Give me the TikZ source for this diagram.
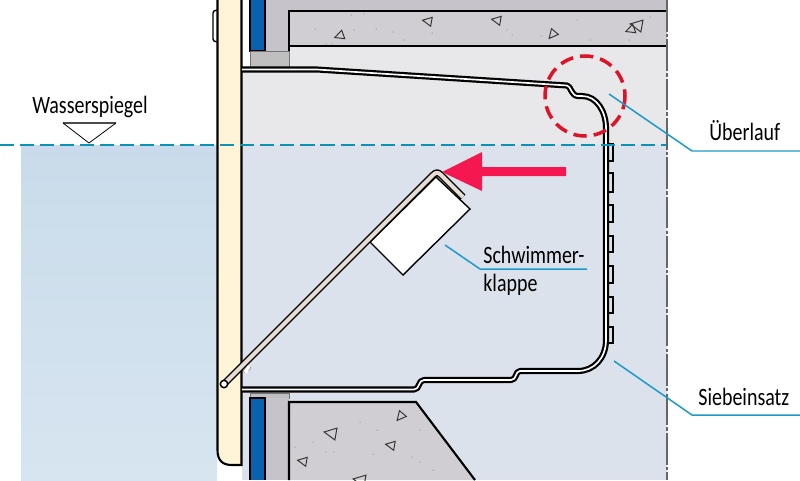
\documentclass[tikz,border=0pt]{standalone}
\usepackage{fontspec}
\setmainfont[FakeStretch=0.8]{Carlito}
\usetikzlibrary{positioning}

\definecolor{waterIn}{HTML}{DCE2EC}
\definecolor{waterOut}{HTML}{C9DBEA}
\definecolor{waterLow}{HTML}{D7E5F0}
\definecolor{airIn}{HTML}{E8E7EA}
\definecolor{concrete}{HTML}{D1CED3}
\definecolor{backGrey}{HTML}{C6C4CA}
\definecolor{wallCream}{HTML}{FFF3D8}
\definecolor{sealBlue}{HTML}{0A62AE}
\definecolor{leader}{HTML}{1B9AC9}
\definecolor{levelLine}{HTML}{0A93B4}
\definecolor{flapRed}{HTML}{F5174F}
\definecolor{ringRed}{HTML}{DC1428}
\definecolor{rodBeige}{HTML}{E9DDD3}

\tikzset{
    housing/.style={line width=1.25pt, double=white, double distance=0.95pt, line join=round},
    rodline/.style={line width=0.8pt, double=rodBeige, double distance=2.3pt, line join=round},
    outline/.style={draw=black, line width=1.2pt},
    leaderline/.style={draw=leader, line width=0.85pt},
    pebble/.style={draw=black!80, line width=0.55pt, fill=none},
    label/.style={font=\fontsize{14.2}{16}\selectfont, inner sep=0pt}
}

\begin{document}
\begin{tikzpicture}[x=0.02cm, y=-0.02cm]
    \useasboundingbox (0,0) rectangle (800,480);

    % backgrounds
    \fill[airIn] (242,46) rectangle (667,145);
    \fill[waterIn] (242,145) rectangle (667,480);
    \shade[top color=waterOut, bottom color=waterLow] (21,145) rectangle (217,480);

    % upper structure
    \fill[backGrey] (265,0) rectangle (667,11);
    \fill[backGrey] (265,0) rectangle (289,51);
    \fill[white] (242,0) rectangle (250,67);
    \fill[sealBlue] (250,0) rectangle (265,51);
    \draw[black, line width=0.8pt] (250,0) -- (250,51) -- (265,51) -- (265,0);
    \fill[black!25, draw=black!55, line width=0.4pt] (250,51) rectangle (289,67);
    \fill[concrete] (289,11) rectangle (667,46);
    \draw[outline] (289,51) -- (289,11) -- (667,11);
    \draw[outline] (289,46) -- (667,46);

    % lower structure
    \fill[concrete] (289,402) -- (416,402) -- (475,480) -- (289,480) -- cycle;
    \fill[black!25, draw=black!55, line width=0.4pt] (250,393) rectangle (289,398);
    \fill[backGrey] (265,398) rectangle (289,480);
    \fill[sealBlue] (250,398) rectangle (265,480);
    \draw[black, line width=0.8pt] (250,480) -- (250,398) -- (265,398) -- (265,480);
    \draw[outline] (289,480) -- (289,402) -- (416,402) -- (475,480);

    % pebbles in the concrete
    \foreach \cx/\cy/\rd/\ang in {339/36/4.5/200, 427/21/4.5/170, 496/20/4.5/170, 552/35/4.5/230,
        630/30/4.5/200, 636/25/6/170, 400/417/4.5/230, 330/433/6/170, 390/445/4.5/170,
        302/461/4.5/170, 359/480/6/170}
        \draw[pebble, rotate around={\ang:(\cx,\cy)}] (\cx+\rd,\cy) -- (\cx-\rd,\cy-\rd) -- (\cx-\rd,\cy+\rd) -- cycle;
    \foreach \cx/\cy in {351/15, 364/14, 315/29, 354/30, 376/29, 393/32, 404/40, 326/44, 332/44,
        432/33, 507/30, 512/35, 541/36, 577/20, 590/40, 650/17, 629/40,
        360/422, 313/442, 295/447, 326/452, 334/452, 373/454, 412/457, 420/462, 433/470, 377/430, 420/430}
        \fill[black!60] (\cx,\cy) circle (0.5);

    % wall
    \fill[wallCream] (217,-1) -- (217,450) .. controls (217,460) and (222,465) .. (232,465) -- (242,465) -- (242,-1) -- cycle;
    \draw[outline] (217.5,-1) -- (217.5,450) .. controls (217.5,460) and (222,465) .. (232,465) -- (241.5,465) -- (241.5,-1);
    \draw[black, line width=0.8pt] (217,10) -- (214,11) -- (213,13) -- (213,39) -- (214,41) -- (217,42);

    % holes of the strainer
    \foreach \ya/\yb in {144/161, 173/192, 205/222, 236/252, 266/283, 297/313, 327/343}
        \draw[black, line width=1pt] (607,\ya) -- (613,\ya) -- (613,\yb) -- (607,\yb);

    % strainer insert
    \draw[housing] (242,69.5) -- (317,69.5) -- (567,85.5) .. controls (571,86) and (571,96) .. (578,96)
        -- (582,96) .. controls (597,96) and (606,112) .. (606,128) -- (606,340)
        .. controls (606,358) and (594,371) .. (578,371) -- (520,371)
        .. controls (515,371) and (517,380) .. (511,380) -- (424,380)
        .. controls (418,380) and (420,389.5) .. (414,389.5) -- (242,389.5);

    % float flap
    \fill[white, draw=black, line width=0.8pt] (436,177) -- (470,209) -- (403,275) -- (370,242) -- cycle;
    \fill[white, draw=black!45, line width=0.3pt, dashed] (243,371) -- (248,365) -- (251,368) -- (246,374) -- cycle;
    \draw[rodline] (224,384) -- (433,175) .. controls (436,172) and (438,172) .. (441,175) -- (463,197);
    \node[circle, draw=black, fill=white, line width=0.85pt, inner sep=0pt, minimum size=4.2pt] (pivot) at (224,384) {};

    % water level
    \draw[levelLine, line width=1.1pt, dash pattern=on 8pt off 3.4pt] (0,145) -- (667,145);
    \draw[black!70, line width=0.8pt] (63,123) -- (116,123);
    \draw[black, line width=0.45pt] (63,123) -- (89,143) -- (116,123);

    % axis
    \draw[black!60, line width=1.1pt, dash pattern=on 18pt off 1.2pt on 2pt off 1.2pt] (667,0) -- (667,480);

    % arrow and overflow ring
    \fill[flapRed] (442,172) -- (482,152) -- (482,167) -- (566,167) -- (566,176) -- (482,176) -- (482,191) -- cycle;
    \draw[ringRed, line width=2pt, dash pattern=on 7.6pt off 4pt] (585,96) circle (40);

    % labels
    \node[label, anchor=base west] (level) at (32,113) {Wasserspiegel};
    \node[label, anchor=base west] (overflow) at (709,140) {Überlauf};
    \node[label, anchor=base west] (flapTop) at (483,263) {Schwimmer-};
    \node[label, anchor=base west] (flapBottom) at (483,291) {klappe};
    \node[label, anchor=base west] (strainer) at (698,405) {Siebeinsatz};

    % leaders
    \coordinate (overflowA) at (609,94);
    \coordinate (overflowB) at (692,151);
    \coordinate (overflowC) at (800,151);
    \coordinate (flapA) at (445,245);
    \coordinate (flapB) at (480,269);
    \coordinate (flapC) at (587,269);
    \coordinate (strainerA) at (614,361);
    \coordinate (strainerB) at (692,415);
    \coordinate (strainerC) at (800,415);
    \draw[leaderline] (overflowA) -- (overflowB) -- (overflowC);
    \draw[leaderline] (flapA) -- (flapB) -- (flapC);
    \draw[leaderline] (strainerA) -- (strainerB) -- (strainerC);
\end{tikzpicture}
\end{document}
